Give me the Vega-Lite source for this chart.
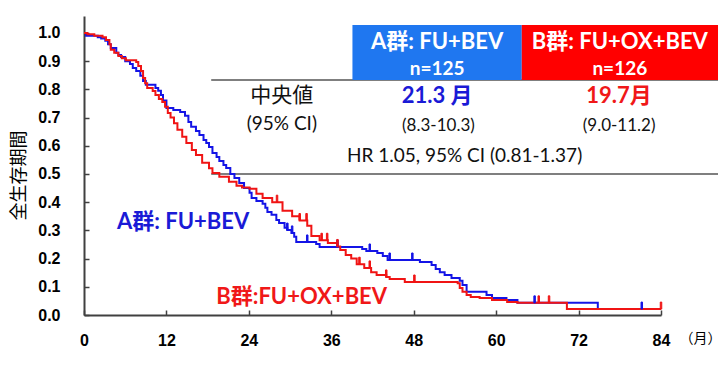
{
  "$schema": "https://vega.github.io/schema/vega-lite/v6.json",
  "width": 577,
  "height": 299,
  "autosize": {"type": "none"},
  "padding": {"left": 84, "top": 16, "right": 61, "bottom": 59},
  "background": "white",
  "config": {"view": {"stroke": null}},
  "datasets": {
    "km": [
      {"group":"A","x":0,"y":1.0},{"group":"A","x":0.3,"y":0.99},{"group":"A","x":2.0,"y":0.985},{"group":"A","x":2.5,"y":0.98},{"group":"A","x":3.1,"y":0.972},{"group":"A","x":3.5,"y":0.96},{"group":"A","x":3.9,"y":0.947},{"group":"A","x":4.7,"y":0.93},{"group":"A","x":5.0,"y":0.922},{"group":"A","x":5.4,"y":0.915},{"group":"A","x":6.0,"y":0.9},{"group":"A","x":6.7,"y":0.89},{"group":"A","x":7.1,"y":0.876},{"group":"A","x":7.6,"y":0.865},{"group":"A","x":8.2,"y":0.848},{"group":"A","x":8.6,"y":0.83},{"group":"A","x":9.0,"y":0.816},{"group":"A","x":10.4,"y":0.805},{"group":"A","x":10.8,"y":0.795},{"group":"A","x":11.2,"y":0.78},{"group":"A","x":11.5,"y":0.76},{"group":"A","x":12.0,"y":0.734},{"group":"A","x":13.0,"y":0.727},{"group":"A","x":14.0,"y":0.72},{"group":"A","x":14.7,"y":0.706},{"group":"A","x":15.2,"y":0.684},{"group":"A","x":15.6,"y":0.667},{"group":"A","x":16.3,"y":0.652},{"group":"A","x":16.8,"y":0.638},{"group":"A","x":17.4,"y":0.62},{"group":"A","x":17.8,"y":0.61},{"group":"A","x":18.2,"y":0.596},{"group":"A","x":18.7,"y":0.574},{"group":"A","x":19.3,"y":0.56},{"group":"A","x":19.7,"y":0.546},{"group":"A","x":20.3,"y":0.532},{"group":"A","x":20.7,"y":0.521},{"group":"A","x":21.3,"y":0.5},{"group":"A","x":21.9,"y":0.486},{"group":"A","x":22.6,"y":0.468},{"group":"A","x":23.3,"y":0.45},{"group":"A","x":24.1,"y":0.433},{"group":"A","x":24.4,"y":0.415},{"group":"A","x":25.1,"y":0.404},{"group":"A","x":26.0,"y":0.394},{"group":"A","x":26.4,"y":0.38},{"group":"A","x":26.7,"y":0.365},{"group":"A","x":27.3,"y":0.355},{"group":"A","x":28.0,"y":0.337},{"group":"A","x":28.4,"y":0.326},{"group":"A","x":29.2,"y":0.309},{"group":"A","x":29.6,"y":0.301},{"group":"A","x":30.2,"y":0.291},{"group":"A","x":30.6,"y":0.277},{"group":"A","x":30.9,"y":0.259},{"group":"A","x":33.8,"y":0.252},{"group":"A","x":34.3,"y":0.241},{"group":"A","x":40.5,"y":0.234},{"group":"A","x":41.1,"y":0.227},{"group":"A","x":42.7,"y":0.22},{"group":"A","x":43.5,"y":0.209},{"group":"A","x":44.2,"y":0.195},{"group":"A","x":48.9,"y":0.188},{"group":"A","x":50.6,"y":0.177},{"group":"A","x":51.2,"y":0.163},{"group":"A","x":51.8,"y":0.152},{"group":"A","x":52.5,"y":0.142},{"group":"A","x":53.5,"y":0.131},{"group":"A","x":54.7,"y":0.121},{"group":"A","x":55.1,"y":0.106},{"group":"A","x":55.7,"y":0.082},{"group":"A","x":58.6,"y":0.071},{"group":"A","x":59.4,"y":0.06},{"group":"A","x":61.5,"y":0.053},{"group":"A","x":63.1,"y":0.043},{"group":"A","x":74.8,"y":0.021},{"group":"A","x":81.2,"y":0.021},
      {"group":"B","x":0,"y":1.0},{"group":"B","x":0.5,"y":0.995},{"group":"B","x":1.5,"y":0.99},{"group":"B","x":2.7,"y":0.985},{"group":"B","x":3.2,"y":0.975},{"group":"B","x":3.7,"y":0.96},{"group":"B","x":3.9,"y":0.94},{"group":"B","x":4.4,"y":0.93},{"group":"B","x":5.0,"y":0.918},{"group":"B","x":5.5,"y":0.91},{"group":"B","x":6.1,"y":0.903},{"group":"B","x":7.6,"y":0.897},{"group":"B","x":7.9,"y":0.883},{"group":"B","x":8.3,"y":0.865},{"group":"B","x":8.6,"y":0.84},{"group":"B","x":8.9,"y":0.822},{"group":"B","x":9.2,"y":0.805},{"group":"B","x":10.0,"y":0.794},{"group":"B","x":10.4,"y":0.78},{"group":"B","x":10.9,"y":0.766},{"group":"B","x":11.4,"y":0.755},{"group":"B","x":11.8,"y":0.738},{"group":"B","x":12.2,"y":0.716},{"group":"B","x":12.6,"y":0.7},{"group":"B","x":13.1,"y":0.68},{"group":"B","x":13.6,"y":0.657},{"group":"B","x":14.3,"y":0.632},{"group":"B","x":14.9,"y":0.61},{"group":"B","x":15.7,"y":0.585},{"group":"B","x":16.3,"y":0.567},{"group":"B","x":17.2,"y":0.54},{"group":"B","x":18.2,"y":0.52},{"group":"B","x":18.7,"y":0.503},{"group":"B","x":19.7,"y":0.49},{"group":"B","x":21.1,"y":0.472},{"group":"B","x":22.2,"y":0.458},{"group":"B","x":23.0,"y":0.452},{"group":"B","x":24.1,"y":0.448},{"group":"B","x":25.1,"y":0.43},{"group":"B","x":26.0,"y":0.415},{"group":"B","x":27.4,"y":0.4},{"group":"B","x":28.9,"y":0.37},{"group":"B","x":30.3,"y":0.35},{"group":"B","x":31.4,"y":0.335},{"group":"B","x":32.5,"y":0.316},{"group":"B","x":33.1,"y":0.28},{"group":"B","x":34.3,"y":0.265},{"group":"B","x":35.5,"y":0.255},{"group":"B","x":36.9,"y":0.243},{"group":"B","x":37.3,"y":0.23},{"group":"B","x":38.1,"y":0.213},{"group":"B","x":38.9,"y":0.2},{"group":"B","x":39.7,"y":0.18},{"group":"B","x":40.8,"y":0.167},{"group":"B","x":41.8,"y":0.152},{"group":"B","x":42.6,"y":0.142},{"group":"B","x":44.0,"y":0.135},{"group":"B","x":44.5,"y":0.128},{"group":"B","x":46.7,"y":0.117},{"group":"B","x":54.4,"y":0.113},{"group":"B","x":54.7,"y":0.096},{"group":"B","x":55.1,"y":0.082},{"group":"B","x":55.7,"y":0.071},{"group":"B","x":56.3,"y":0.064},{"group":"B","x":57.6,"y":0.06},{"group":"B","x":59.4,"y":0.053},{"group":"B","x":61.6,"y":0.046},{"group":"B","x":63.1,"y":0.043},{"group":"B","x":70.3,"y":0.021},{"group":"B","x":84,"y":0.021}
    ],
    "cens": [
      {"group":"A","x":29.6,"y":0.301},{"group":"A","x":30.3,"y":0.291},{"group":"A","x":32.5,"y":0.259},{"group":"A","x":36.9,"y":0.241},{"group":"A","x":41.6,"y":0.227},{"group":"A","x":44.5,"y":0.195},{"group":"A","x":47.8,"y":0.195},{"group":"A","x":65.6,"y":0.043},{"group":"A","x":81.2,"y":0.021},
      {"group":"B","x":28.1,"y":0.4},{"group":"B","x":31.4,"y":0.335},{"group":"B","x":32.4,"y":0.335},{"group":"B","x":34.6,"y":0.265},{"group":"B","x":35.4,"y":0.265},{"group":"B","x":36.9,"y":0.243},{"group":"B","x":40.1,"y":0.18},{"group":"B","x":41.6,"y":0.167},{"group":"B","x":44.0,"y":0.135},{"group":"B","x":48.1,"y":0.117},{"group":"B","x":66.2,"y":0.043},{"group":"B","x":67.7,"y":0.043},{"group":"B","x":84,"y":0.021}
    ],
    "boxes": [
      {"group":"A","x":39.08,"x2":63.73,"y":0.833,"y2":1.028},
      {"group":"B","x":63.73,"x2":92.3,"y":0.833,"y2":1.028}
    ],
    "rules": [
      {"x":18.52,"x2":92.3,"y":0.833},
      {"x":18.52,"x2":92.3,"y":0.5}
    ],
    "labels": [
      {"kind":"hdr","text":"A群: FU+BEV","x":51.4,"y":0.968},
      {"kind":"hdr","text":"B群: FU+OX+BEV","x":78.0,"y":0.968},
      {"kind":"hdrn","text":"n=125","x":51.4,"y":0.872},
      {"kind":"hdrn","text":"n=126","x":78.0,"y":0.872},
      {"kind":"med","text":"中央値","x":28.8,"y":0.777},
      {"kind":"ci","text":"(95% CI)","x":28.8,"y":0.677},
      {"kind":"medA","text":"21.3 月","x":51.4,"y":0.777},
      {"kind":"medB","text":"19.7月","x":77.9,"y":0.777},
      {"kind":"cisub","text":"(8.3-10.3)","x":51.6,"y":0.67},
      {"kind":"cisub","text":"(9.0-11.2)","x":77.9,"y":0.67},
      {"kind":"hr","text":"HR 1.05, 95% CI (0.81-1.37)","x":55.4,"y":0.564},
      {"kind":"lblA","text":"A群: FU+BEV","x":4.8,"y":0.33},
      {"kind":"lblB","text":"B群:FU+OX+BEV","x":19.25,"y":0.064}
    ]
  },
  "encoding": {
    "x": {"field": "x", "type": "quantitative", "scale": {"domain": [0, 84], "nice": false, "zero": false},
      "axis": {"values": [0,12,24,36,48,60,72,84], "format": "d", "grid": false, "labelFont": "Liberation Sans", "labelFontWeight": "bold", "labelFontSize": 16, "labelColor": "#000000", "labelPadding": 22, "labelOverlap": false, "tickSize": -5, "tickColor": "#404040", "tickWidth": 1.5, "domainColor": "#404040", "domainWidth": 2, "title": "（月）", "titleFont": "Noto Sans CJK JP", "titleFontSize": 14, "titleFontWeight": "normal", "titleColor": "#000000", "titleX": 616, "titleY": 23, "titleAlign": "center", "titleBaseline": "middle", "labelFlush": false}},
    "y": {"field": "y", "type": "quantitative", "scale": {"domain": [0, 1.06], "nice": false},
      "axis": {"values": [0,0.1,0.2,0.3,0.4,0.5,0.6,0.7,0.8,0.9,1.0], "tickCount": 11, "format": ".1f", "grid": false, "labelFont": "Liberation Sans", "labelFontWeight": "bold", "labelFontSize": 16, "labelColor": "#000000", "labelPadding": 29, "labelOverlap": false, "tickSize": -5, "tickColor": "#404040", "tickWidth": 1.5, "domainColor": "#404040", "domainWidth": 2, "title": "全生存期間", "titleFont": "Noto Sans CJK JP", "titleFontSize": 18, "titleFontWeight": "normal", "titleColor": "#000000", "titleX": -65, "titleY": 159, "titleAlign": "center", "titleBaseline": "middle", "labelFlush": false}}
  },
  "layer": [
    {
      "data": {"name": "rules"},
      "mark": {"type": "rule", "color": "#555555", "strokeWidth": 1.5},
      "encoding": {"x2": {"field": "x2"}}
    },
    {
      "data": {"name": "boxes"},
      "mark": {"type": "rect"},
      "encoding": {
        "x2": {"field": "x2"},
        "y2": {"field": "y2"},
        "color": {"field": "group", "type": "nominal", "scale": {"domain": ["A","B"], "range": ["#1F77F0", "#FF0000"]}, "legend": null}
      }
    },
    {
      "data": {"name": "km"},
      "mark": {"type": "line", "interpolate": "step-after", "strokeWidth": 2},
      "encoding": {
        "stroke": {"field": "group", "type": "nominal", "scale": {"domain": ["A","B"], "range": ["#1414E6", "#F01414"]}, "legend": null}
      }
    },
    {
      "data": {"name": "cens"},
      "mark": {"type": "tick", "orient": "vertical", "size": 7, "thickness": 1.5, "yOffset": -3.5, "opacity": 1},
      "encoding": {
        "stroke": {"field": "group", "type": "nominal", "scale": {"domain": ["A","B"], "range": ["#1414E6", "#F01414"]}, "legend": null},
        "fill": {"field": "group", "type": "nominal", "scale": {"domain": ["A","B"], "range": ["#1414E6", "#F01414"]}, "legend": null}
      }
    },
    {
      "data": {"name": "labels"},
      "transform": [{"filter": "datum.kind === 'hdr'"}],
      "mark": {"type": "text", "font": "Lato, Noto Sans CJK JP", "fontWeight": "bold", "fontSize": 22, "color": "#FFFFFF", "align": "center", "baseline": "middle"},
      "encoding": {"text": {"field": "text"}}
    },
    {
      "data": {"name": "labels"},
      "transform": [{"filter": "datum.kind === 'hdrn'"}],
      "mark": {"type": "text", "font": "Lato", "fontWeight": "bold", "fontSize": 19, "color": "#FFFFFF", "align": "center", "baseline": "middle"},
      "encoding": {"text": {"field": "text"}}
    },
    {
      "data": {"name": "labels"},
      "transform": [{"filter": "datum.kind === 'med'"}],
      "mark": {"type": "text", "font": "Noto Sans CJK JP", "fontSize": 21, "color": "#111111", "align": "center", "baseline": "middle"},
      "encoding": {"text": {"field": "text"}}
    },
    {
      "data": {"name": "labels"},
      "transform": [{"filter": "datum.kind === 'ci' || datum.kind === 'hr'"}],
      "mark": {"type": "text", "font": "Lato", "fontSize": 19, "color": "#111111", "align": "center", "baseline": "middle"},
      "encoding": {"text": {"field": "text"}}
    },
    {
      "data": {"name": "labels"},
      "transform": [{"filter": "datum.kind === 'cisub'"}],
      "mark": {"type": "text", "font": "Lato", "fontSize": 17, "color": "#111111", "align": "center", "baseline": "middle"},
      "encoding": {"text": {"field": "text"}}
    },
    {
      "data": {"name": "labels"},
      "transform": [{"filter": "datum.kind === 'medA'"}],
      "mark": {"type": "text", "font": "Lato, Noto Sans CJK JP", "fontWeight": "bold", "fontSize": 22, "color": "#1A1AD6", "align": "center", "baseline": "middle"},
      "encoding": {"text": {"field": "text"}}
    },
    {
      "data": {"name": "labels"},
      "transform": [{"filter": "datum.kind === 'medB'"}],
      "mark": {"type": "text", "font": "Lato, Noto Sans CJK JP", "fontWeight": "bold", "fontSize": 22, "color": "#F01818", "align": "center", "baseline": "middle"},
      "encoding": {"text": {"field": "text"}}
    },
    {
      "data": {"name": "labels"},
      "transform": [{"filter": "datum.kind === 'lblA'"}],
      "mark": {"type": "text", "font": "Lato, Noto Sans CJK JP", "fontWeight": "bold", "fontSize": 22, "color": "#1A1AD6", "align": "left", "baseline": "middle"},
      "encoding": {"text": {"field": "text"}}
    },
    {
      "data": {"name": "labels"},
      "transform": [{"filter": "datum.kind === 'lblB'"}],
      "mark": {"type": "text", "font": "Lato, Noto Sans CJK JP", "fontWeight": "bold", "fontSize": 22, "color": "#F01818", "align": "left", "baseline": "middle"},
      "encoding": {"text": {"field": "text"}}
    }
  ],
  "resolve": {"scale": {"color": "independent", "stroke": "independent", "fill": "independent"}}
}
